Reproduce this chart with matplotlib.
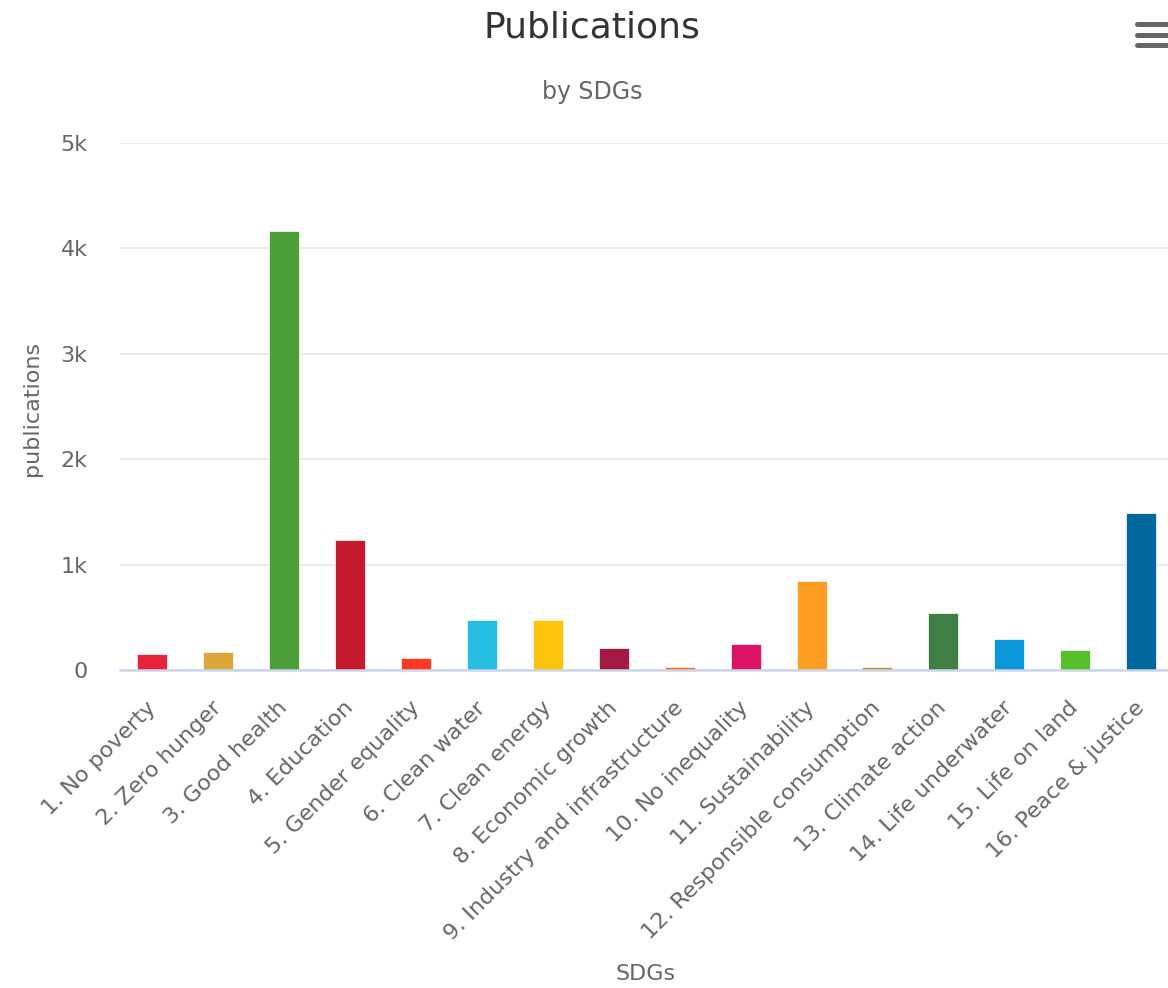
import matplotlib
matplotlib.use("Agg")
import matplotlib.pyplot as plt
from matplotlib.lines import Line2D
from matplotlib.ticker import FixedLocator, FixedFormatter

plt.rcParams['font.family'] = ['DejaVu Sans']

categories = ["1. No poverty", "2. Zero hunger", "3. Good health", "4. Education",
              "5. Gender equality", "6. Clean water", "7. Clean energy",
              "8. Economic growth", "9. Industry and infrastructure",
              "10. No inequality", "11. Sustainability",
              "12. Responsible consumption", "13. Climate action",
              "14. Life underwater", "15. Life on land", "16. Peace & justice"]
values = [150, 170, 4165, 1230, 110, 473, 473, 210, 28, 250, 845, 25, 538, 290, 187, 1485]
colors = ["#E5243B", "#DDA63A", "#4C9F38", "#C5192D", "#FF3A21", "#26BDE2",
          "#FCC30B", "#A21942", "#FD6925", "#DD1367", "#FD9D24", "#BF8B2E",
          "#3F7E44", "#0A97D9", "#56C02B", "#00689D"]
y_ticks = [0, 1000, 2000, 3000, 4000, 5000]
y_tick_labels = ["0", "1k", "2k", "3k", "4k", "5k"]

W, H = 1168, 988
fig = plt.figure(figsize=(W / 100, H / 100), dpi=100)
left, right, top, bottom = 119.5, 1174, 143, 670
ax = fig.add_axes([left / W, 1 - bottom / H, (right - left) / W, (bottom - top) / H])

x = list(range(len(categories)))
ax.bar(x, values, width=0.455, color=colors, edgecolor="white", linewidth=0.5, zorder=3)

ax.set_xlim(-0.5, len(categories) - 0.5)
ax.set_ylim(0, 5000)
ax.yaxis.set_major_locator(FixedLocator(y_ticks))
ax.yaxis.set_major_formatter(FixedFormatter(y_tick_labels))
ax.grid(axis="y", color="#e6e6e6", linewidth=1.2, zorder=0)
ax.set_axisbelow(True)
for s in ["top", "right", "left"]:
    ax.spines[s].set_visible(False)
ax.spines["bottom"].set_color("#ccd6eb")
ax.spines["bottom"].set_linewidth(1.8)
ax.spines["bottom"].set_zorder(4)

ax.set_xticks(x)
ax.set_xticklabels(categories, rotation=45, ha="right", va="center",
                   rotation_mode="anchor", color="#666666", fontsize=16)
ax.tick_params(axis="x", length=0, pad=25)
ax.tick_params(axis="y", length=0, pad=23, labelsize=16, labelcolor="#666666")

fig.text(32 / W, 1 - 408 / H, "publications", rotation=90, ha="center", va="center",
         fontsize=16, color="#666666")
fig.text(646 / W, 1 - 974 / H, "SDGs", ha="center", va="center",
         fontsize=16, color="#666666")

fig.text(592 / W, 1 - 27 / H, "Publications", ha="center", va="center",
         fontsize=26, color="#333333")
fig.text(592 / W, 1 - 92 / H, "by SDGs", ha="center", va="center",
         fontsize=17, color="#666666")

for yy in [24, 35, 45.5]:
    fig.add_artist(Line2D([1137 / W, 1172 / W], [1 - yy / H, 1 - yy / H],
                          color="#666666", linewidth=3.6, solid_capstyle="round",
                          transform=fig.transFigure))

fig.savefig("out.png", dpi=100)
